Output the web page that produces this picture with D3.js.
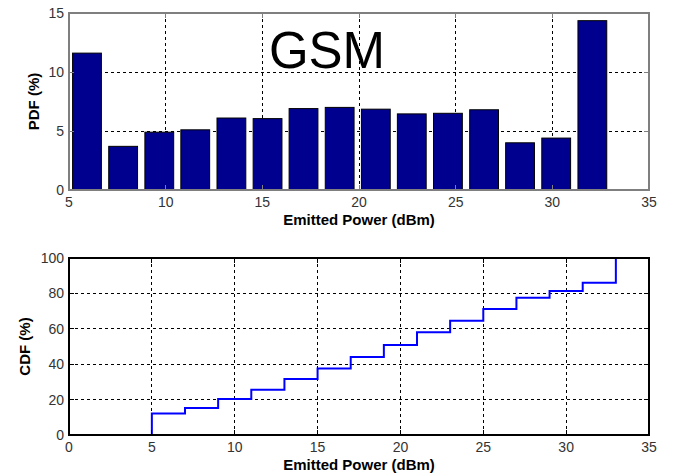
<!DOCTYPE html>
<html>
<head>
<meta charset="utf-8">
<script src="https://cdn.jsdelivr.net/npm/d3@7"></script>
<style>
html,body{margin:0;padding:0;background:#fff;}
svg{display:block;font-family:"Liberation Sans",Arial,sans-serif;}
</style>
</head>
<body>
<svg id="chart" width="673" height="476"></svg>
<script>
// ---- data ----
const binCenters = [5.93, 7.8, 9.67, 11.53, 13.4, 15.27, 17.13, 19.0, 20.87, 22.73, 24.6, 26.47, 28.33, 30.2, 32.07];
const pdfValues  = [11.6, 3.7, 4.9, 5.1, 6.1, 6.05, 6.9, 7.0, 6.85, 6.45, 6.5, 6.8, 4.0, 4.4, 14.35];
const barWidthUnits = 1.49;
const cdfX = [5, 7, 9, 11, 13, 15, 17, 19, 21, 23, 25, 27, 29, 31, 33];
const cdfValues = [12.2, 15.2, 20.3, 25.5, 31.6, 37.6, 44.0, 50.9, 58.1, 64.6, 71.2, 77.6, 81.4, 86.0, 100];
const pdfXTicks = [5, 10, 15, 20, 25, 30, 35];
const pdfYTicks = [0, 5, 10, 15];
const cdfXTicks = [0, 5, 10, 15, 20, 25, 30, 35];
const cdfYTicks = [0, 20, 40, 60, 80, 100];
const titleText = "GSM";
const xLabel = "Emitted Power (dBm)";

const svg = d3.select("#chart");

function panel(opts) {
  const {x, y, xTicks, yTicks} = opts;
  const g = svg.append("g");
  const [x0, x1] = x.range();
  const [y0, y1] = y.range();
  g.selectAll(".vg").data(xTicks.slice(1, -1)).join("line")
    .attr("x1", d => x(d)).attr("x2", d => x(d))
    .attr("y1", y0).attr("y2", y1)
    .attr("stroke", "#000").attr("stroke-width", 1).attr("stroke-dasharray", "3,3")
    .attr("shape-rendering", "crispEdges");
  g.selectAll(".hg").data(yTicks.slice(1, -1)).join("line")
    .attr("x1", x0).attr("x2", x1)
    .attr("y1", d => y(d)).attr("y2", d => y(d))
    .attr("stroke", "#000").attr("stroke-width", 1).attr("stroke-dasharray", "3,3")
    .attr("shape-rendering", "crispEdges");
  return g;
}

function frame(g, opts) {
  const {x, y, xTicks, yTicks, boxColor, ylabel, ylabelX, xLabelY, xTickY} = opts;
  const [x0, x1] = x.range();
  const [y0, y1] = y.range();
  g.append("rect").attr("x", x0).attr("y", y1).attr("width", x1 - x0).attr("height", y0 - y1)
    .attr("fill", "none").attr("stroke", boxColor).attr("stroke-width", 1.3)
    .attr("shape-rendering", "crispEdges");
  g.selectAll(".xt").data(xTicks).join("line")
    .attr("x1", d => x(d)).attr("x2", d => x(d)).attr("y1", y0).attr("y2", y0 - 5)
    .attr("stroke", boxColor).attr("shape-rendering", "crispEdges");
  g.selectAll(".xt2").data(xTicks).join("line")
    .attr("x1", d => x(d)).attr("x2", d => x(d)).attr("y1", y1).attr("y2", y1 + 5)
    .attr("stroke", boxColor).attr("shape-rendering", "crispEdges");
  g.selectAll(".yt").data(yTicks).join("line")
    .attr("x1", x0).attr("x2", x0 + 5).attr("y1", d => y(d)).attr("y2", d => y(d))
    .attr("stroke", boxColor).attr("shape-rendering", "crispEdges");
  g.selectAll(".yt2").data(yTicks).join("line")
    .attr("x1", x1).attr("x2", x1 - 5).attr("y1", d => y(d)).attr("y2", d => y(d))
    .attr("stroke", boxColor).attr("shape-rendering", "crispEdges");
  g.selectAll(".xl").data(xTicks).join("text")
    .attr("x", d => x(d)).attr("y", xTickY)
    .attr("text-anchor", "middle").attr("font-size", 14).attr("fill", "#333")
    .text(d => d);
  g.selectAll(".yl").data(yTicks).join("text")
    .attr("x", x0 - 5).attr("y", d => y(d) + 5)
    .attr("text-anchor", "end").attr("font-size", 14).attr("fill", "#333")
    .text(d => d);
  g.append("text").attr("x", (x0 + x1) / 2).attr("y", xLabelY)
    .attr("text-anchor", "middle").attr("font-size", 15).attr("font-weight", "bold")
    .text(xLabel);
  g.append("text").attr("transform", `translate(${ylabelX},${(y0 + y1) / 2}) rotate(-90)`)
    .attr("text-anchor", "middle").attr("font-size", 15).attr("font-weight", "bold")
    .text(ylabel);
}

// ---- PDF panel ----
const xP = d3.scaleLinear().domain([5, 35]).range([69, 649]);
const yP = d3.scaleLinear().domain([0, 15]).range([190, 13]);
const optsP = {x: xP, y: yP, xTicks: pdfXTicks, yTicks: pdfYTicks, boxColor: "#7f7f7f",
  ylabel: "PDF (%)", ylabelX: 39, xLabelY: 225, xTickY: 207};
const gP = panel(optsP);
gP.append("text").attr("x", 327).attr("y", 68).attr("text-anchor", "middle")
  .attr("font-size", 51).attr("fill", "#000").text(titleText);
gP.selectAll(".bar").data(binCenters).join("rect")
  .attr("x", (d) => xP(d - barWidthUnits / 2))
  .attr("width", xP(barWidthUnits) - xP(0))
  .attr("y", (d, i) => yP(pdfValues[i]))
  .attr("height", (d, i) => yP(0) - yP(pdfValues[i]))
  .attr("fill", "#00008F").attr("stroke", "#000").attr("stroke-width", 1);
frame(gP, optsP);

// ---- CDF panel ----
const xC = d3.scaleLinear().domain([0, 35]).range([69, 649]);
const yC = d3.scaleLinear().domain([0, 100]).range([435, 258]);
const optsC = {x: xC, y: yC, xTicks: cdfXTicks, yTicks: cdfYTicks, boxColor: "#000",
  ylabel: "CDF (%)", ylabelX: 30, xLabelY: 470, xTickY: 452};
const gC = panel(optsC);
const pts = [[cdfX[0], 0]].concat(cdfX.map((d, i) => [d, cdfValues[i]]));
gC.append("path")
  .attr("d", d3.line().x(d => xC(d[0])).y(d => yC(d[1])).curve(d3.curveStepAfter)(pts))
  .attr("fill", "none").attr("stroke", "#0000FF").attr("stroke-width", 2);
frame(gC, optsC);
</script>
</body>
</html>
